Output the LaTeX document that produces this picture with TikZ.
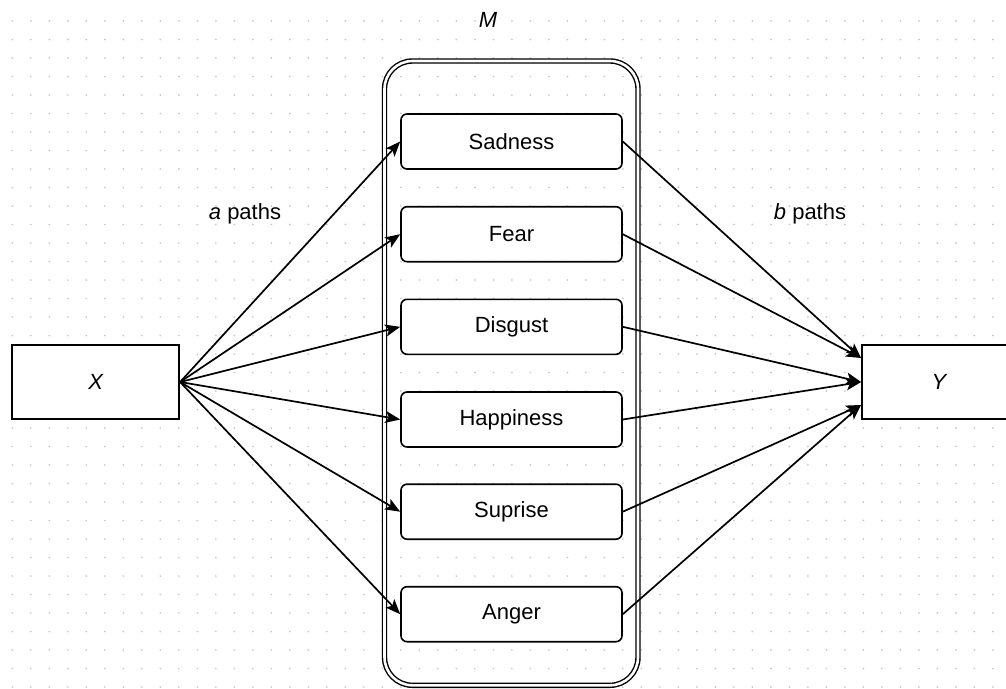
\documentclass[tikz,border=0pt]{standalone}
\usepackage{fontspec}
\setmainfont{Liberation Sans}
\usetikzlibrary{arrows.meta}
\begin{document}
\begin{tikzpicture}[x=1pt,y=-1pt,
  font=\fontsize{22}{26}\selectfont,
  endbox/.style={draw, line width=1.8pt, fill=white, minimum height=74pt, inner sep=0pt},
  emobox/.style={draw, line width=1.6pt, fill=white, rounded corners=6pt, minimum width=221pt, minimum height=55pt, inner sep=0pt},
  conn/.style={line width=1.7pt, -{Stealth[length=15pt,width=12pt,inset=3.5pt]}},
  lbl/.style={inner sep=0pt}]
\useasboundingbox (0,0) rectangle (1006,688);
\clip (0,0) rectangle (1006,688);
% dotted grid
\foreach \i in {0,...,54}{
  \foreach \j in {0,...,36}{
    \fill[black!22] (12.3+18.5*\i, 21+18.5*\j) circle (0.95pt);
  }
}
% container M
\draw[line width=1.4pt, double=white, double distance=2.6pt, rounded corners=28pt]
  (384.5,61) rectangle (638,685.3);
\node[lbl] (M) at (488,20) {\itshape M};
% end boxes
\node[endbox, minimum width=167pt] (X) at (95.7,382) {\itshape X};
\node[endbox, minimum width=154pt] (Y) at (939,382) {\itshape Y};
% emotion boxes
\node[emobox] (sad) at (511.5,141.5) {Sadness};
\node[emobox] (fear) at (511.5,234.2) {Fear};
\node[emobox] (dis) at (511.5,326.8) {Disgust};
\node[emobox] (hap) at (511.5,419.5) {Happiness};
\node[emobox] (sur) at (511.5,511.7) {Suprise};
\node[emobox] (ang) at (511.5,614.2) {Anger};
% labels
\node[lbl] (ap) at (245,213.5) {\textit{a} paths};
\node[lbl] (bp) at (810,213.5) {\textit{b} paths};
% Y entry points
\coordinate (y1) at ([yshift=24pt]Y.west);
\coordinate (y2) at (Y.west);
\coordinate (y3) at ([yshift=-23pt]Y.west);
% a paths
\foreach \t in {sad,fear,dis,hap,sur,ang}{
  \draw[conn] (X.east) -- (\t.west);
}
% b paths
\draw[conn] (sad.east) -- (y1);
\draw[conn] (fear.east) -- (y1);
\draw[conn] (dis.east) -- (y2);
\draw[conn] (hap.east) -- (y2);
\draw[conn] (sur.east) -- (y3);
\draw[conn] (ang.east) -- (y3);
\end{tikzpicture}
\end{document}
